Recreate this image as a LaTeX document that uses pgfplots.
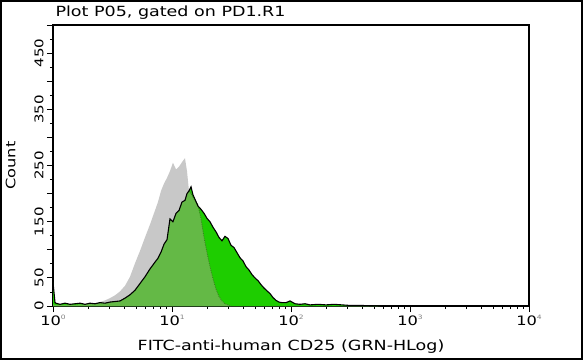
\documentclass[border=0pt]{standalone}
\usepackage{fontspec}
\setmainfont[FakeStretch=1.25]{DejaVu Sans}
\usepackage{pgfplots}
\usepackage{pgfplotstable}
\pgfplotsset{compat=1.18}
\definecolor{cgray}{RGB}{200,200,200}
\definecolor{cgreen}{RGB}{30,205,0}
\definecolor{colive}{RGB}{100,185,70}
\definecolor{cdot}{RGB}{55,125,30}
\newcommand\ex[1]{\raisebox{6pt}{\fontsize{6}{6}\selectfont\color{gray}#1}}

\pgfplotstableread{
L     G    Gr   O
0.000 42   3    3
0.017 6    2    2
0.025 5    2    2
0.059 3    2    2
0.101 5    2    2
0.143 3    3    3
0.185 4    2    2
0.227 5    3    3
0.269 3    3    3
0.311 5    4    4
0.353 4    5    4
0.395 6    7    6
0.437 5    10   5
0.479 7    14   7
0.521 8    19   8
0.563 9    26   9
0.605 14   36   14
0.647 20   52   20
0.689 28   76   28
0.731 40   98   40
0.773 52   122  52
0.815 66   145  66
0.857 78   170  78
0.882 85   185  85
0.908 96   205  96
0.933 110  218  110
0.958 118  228  118
0.983 155  240  155
1.008 150  255  150
1.034 165  243  165
1.059 170  248  170
1.084 185  256  185
1.109 188  263  188
1.126 200  240  200
1.143 205  204  204
1.160 212  200  200
1.176 198  193  193
1.193 190  188  188
1.218 178  180  178
1.244 172  155  155
1.269 165  122  122
1.294 156  95   95
1.319 150  70   70
1.345 140  48   48
1.370 132  30   30
1.395 122  17   17
1.420 116  9    9
1.445 124  4    4
1.471 120  2    2
1.496 108  0    0
1.521 104  0    0
1.546 95   0    0
1.571 86   0    0
1.597 80   0    0
1.622 70   0    0
1.647 64   0    0
1.672 56   0    0
1.697 50   0    0
1.723 45   0    0
1.748 38   0    0
1.773 32   0    0
1.798 27   0    0
1.824 22   0    0
1.849 15   0    0
1.874 10   0    0
1.899 7    0    0
1.924 6    0    0
1.958 6    0    0
1.992 9    0    0
2.034 4    0    0
2.076 3    0    0
2.118 4    0    0
2.160 2    0    0
2.227 3    0    0
2.294 2    0    0
2.361 3    0    0
2.429 2    0    0
2.496 1    0    0
2.580 1    0    0
2.748 0    0    0
}\hist

\begin{document}
\begin{tikzpicture}
\useasboundingbox (0pt,0pt) rectangle (583pt,360pt);
\draw[line width=2pt] (1pt,1pt) rectangle (582pt,359pt);
\begin{axis}[
  at={(53pt,54pt)}, anchor=south west,
  scale only axis, width=476pt, height=281pt,
  xmin=0, xmax=4, ymin=0, ymax=500,
  axis line style={line width=1.2pt},
  every tick/.style={black, line width=0.9pt},
  tick align=outside,
  xtick pos=bottom, ytick pos=left,
  major tick length=6pt, minor tick length=3pt,
  xtick={0,1,2,3,4},
  xticklabels={10\ex{0},10\ex{1},10\ex{2},10\ex{3},10\ex{4}},
  minor xtick={0.301,0.477,0.602,0.699,0.778,0.845,0.903,0.954,
               1.301,1.477,1.602,1.699,1.778,1.845,1.903,1.954,
               2.301,2.477,2.602,2.699,2.778,2.845,2.903,2.954,
               3.301,3.477,3.602,3.699,3.778,3.845,3.903,3.954},
  ytick={0,50,...,500},
  yticklabels={0,50,,150,,250,,350,,450,},
  minor y tick num=1,
  xticklabel style={font=\fontsize{13}{13}\selectfont},
  yticklabel style={font=\fontsize{12}{12}\selectfont, rotate=90, anchor=south},
  xlabel={FITC-anti-human CD25 (GRN-HLog)},
  xlabel style={font=\fontsize{14}{14}\selectfont, at={(axis description cs:0.5,0)}, anchor=base, yshift=-44pt},
  ylabel={Count},
  ylabel style={font=\fontsize{13}{13}\selectfont, at={(axis description cs:0,0.5)}, anchor=south, yshift=34pt},
  title={Plot P05, gated on PD1.R1},
  title style={font=\fontsize{14}{14}\selectfont, at={(axis description cs:0,1)}, anchor=base west, yshift=3pt, xshift=-1pt},
]
\addplot[fill=cgray, draw=none] table[x=L, y=Gr] {\hist} \closedcycle;
\addplot[fill=cgreen, draw=none] table[x=L, y=G] {\hist} \closedcycle;
\addplot[fill=colive, draw=none] table[x=L, y=O] {\hist} \closedcycle;
\addplot[cdot, densely dotted, line width=0.8pt, restrict x to domain=1.14:1.5] table[x=L, y=Gr] {\hist};
\addplot[black, line width=1.1pt] table[x=L, y=G] {\hist};
\end{axis}
\end{tikzpicture}
\end{document}
